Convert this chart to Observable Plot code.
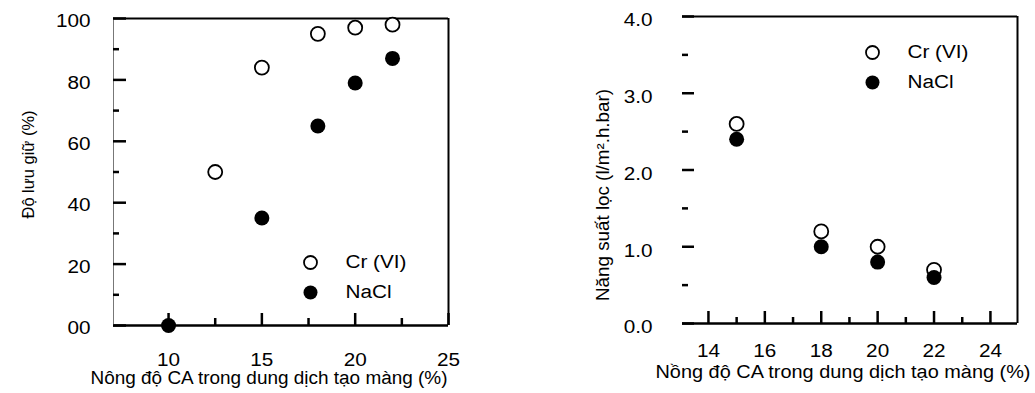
<!DOCTYPE html>
<html><head><meta charset="utf-8">
<script src="https://cdn.jsdelivr.net/npm/d3@7"></script>
<script src="https://cdn.jsdelivr.net/npm/@observablehq/plot@0.6"></script>
<style>
html,body{margin:0;padding:0;background:#fff;}
#wrap{display:flex;width:1035px;height:393px;overflow:hidden;}
#wrap svg{flex:none;}
</style></head><body><div id="wrap"></div>
<script>
// ---------- data ----------
const seriesNames = ["Cr (VI)", "NaCl"];

// Left chart: retention (%) vs CA concentration
const leftCrX = [12.5, 15, 18, 20, 22];
const leftCrY = [50, 84, 95, 97, 98];
const leftNaClX = [10, 15, 18, 20, 22];
const leftNaClY = [0, 35, 65, 79, 87];
const leftXDomain = [7.05, 25];
const leftYDomain = [0, 100];
const leftXMajor = [10, 15, 20, 25];
const leftXMinor = [12.5, 17.5, 22.5];
const leftYMajor = [0, 20, 40, 60, 80, 100];
const leftYMinor = [10, 30, 50, 70, 90];
const leftXTickLabels = ["10", "15", "20", "25"];
const leftYTickLabels = ["00", "20", "40", "60", "80", "100"];
const leftXTitle = "Nông độ CA trong dung dịch tạo màng (%)";
const leftYTitle = "Độ lưu giữ (%)";

// Right chart: flux vs CA concentration
const rightCrX = [15, 18, 20, 22];
const rightCrY = [2.6, 1.2, 1.0, 0.7];
const rightNaClX = [15, 18, 20, 22];
const rightNaClY = [2.4, 1.0, 0.8, 0.6];
const rightXDomain = [13.08, 24.96];
const rightYDomain = [0, 4];
const rightXMajor = [14, 16, 18, 20, 22, 24];
const rightXMinor = [15, 17, 19, 21, 23];
const rightYMajor = [0, 1, 2, 3, 4];
const rightYMinor = [0.5, 1.5, 2.5, 3.5];
const rightXTickLabels = ["14", "16", "18", "20", "22", "24"];
const rightYTickLabels = ["0.0", "1.0", "2.0", "3.0", "4.0"];
const rightXTitle = "Nồng độ CA trong dung dịch tạo màng (%)";
const rightYTitle = "Năng suất lọc (l/m².h.bar)";

const FONT = "Liberation Sans, Arial, Helvetica, sans-serif";

function makeChart(c) {
  const innerW = c.width - c.mL - c.mR;
  const innerH = c.height - c.mT - c.mB;
  const cr = c.crX.map((x, i) => ({x, y: c.crY[i]}));
  const na = c.naX.map((x, i) => ({x, y: c.naY[i]}));
  const marks = [
    Plot.ruleY([c.yDomain[1]], {stroke: "black", strokeWidth: 2}),
    Plot.ruleY([c.yDomain[0]], {stroke: "black", strokeWidth: 2.5}),
    Plot.ruleX([c.xDomain[1]], {stroke: "black", strokeWidth: 2})
  ];
  if (c.leftLine) marks.push(Plot.ruleX([c.xDomain[0]], {stroke: "#777", strokeWidth: 1}));
  marks.push(
    Plot.tickY(c.yMajor, {y: d => d, insetRight: innerW - c.yMajorLen, stroke: "black", strokeWidth: 2.5}),
    Plot.tickY(c.yMinor, {y: d => d, insetRight: innerW - c.yMinorLen, stroke: "black", strokeWidth: 2.5}),
    Plot.tickX(c.xMajor, {x: d => d, insetTop: innerH - c.xMajorLen, stroke: "black", strokeWidth: 2.5}),
    Plot.tickX(c.xMinor, {x: d => d, insetTop: innerH - c.xMinorLen, stroke: "black", strokeWidth: 2.5}),
    Plot.text(c.xMajor, {x: d => d, frameAnchor: "bottom", dy: c.xLabelDy, lineAnchor: "middle", textAnchor: "middle", text: (d, i) => c.xTickLabels[i], fontSize: c.tickFont, fill: "black"}),
    Plot.text(c.yMajor, {y: d => d, frameAnchor: "left", dx: c.yLabelDx, dy: c.yLabelDy, lineAnchor: "middle", textAnchor: "end", text: (d, i) => c.yTickLabels[i], fontSize: c.tickFont, fill: "black"}),
    Plot.text([c.xTitle], {frameAnchor: "bottom", dx: c.xTitleDx, dy: c.xTitleDy, lineAnchor: "middle", textAnchor: "middle", text: d => d, fontSize: c.xTitleFont, fill: "black"}),
    Plot.text([c.yTitle], {frameAnchor: "left", dx: c.yTitleDx, dy: c.yTitleDy, rotate: -90, lineAnchor: "middle", textAnchor: "middle", text: d => d, fontSize: c.yTitleFont, fill: "black"}),
    Plot.dot(cr, {x: "x", y: "y", r: 7, fill: "white", stroke: "black", strokeWidth: 1.8}),
    Plot.dot(na, {x: "x", y: "y", r: 7.5, fill: "black", stroke: "none"}),
    // legend
    Plot.dot([seriesNames[0]], {frameAnchor: c.legAnchor, dx: c.legDx, dy: c.legDy, r: 6.5, fill: "white", stroke: "black", strokeWidth: 1.8}),
    Plot.dot([seriesNames[1]], {frameAnchor: c.legAnchor, dx: c.legDx, dy: c.legDy + 30, r: 7, fill: "black", stroke: "none"}),
    Plot.text([seriesNames[0]], {frameAnchor: c.legAnchor, dx: c.legDx + 35, dy: c.legDy, lineAnchor: "middle", textAnchor: "start", text: d => d, fontSize: c.legFont, fill: "black"}),
    Plot.text([seriesNames[1]], {frameAnchor: c.legAnchor, dx: c.legDx + 35, dy: c.legDy + 30, lineAnchor: "middle", textAnchor: "start", text: d => d, fontSize: c.legFont, fill: "black"})
  );
  return Plot.plot({
    width: c.width, height: c.height,
    marginLeft: c.mL, marginRight: c.mR, marginTop: c.mT, marginBottom: c.mB,
    style: {fontFamily: FONT, background: "white", overflow: "visible"},
    x: {domain: c.xDomain, axis: null},
    y: {domain: c.yDomain, axis: null},
    marks
  });
}

// the source figure's lettering is slightly wide; reproduce with textLength
function widen(svg, k, exact) {
  d3.select(svg).selectAll("text").each(function() {
    const t = this.textContent;
    let L;
    if (exact[t] != null) L = exact[t];
    else L = this.getComputedTextLength() * k;
    this.setAttribute("textLength", L);
    this.setAttribute("lengthAdjust", "spacingAndGlyphs");
  });
}

const left = makeChart({
  width: 517, height: 393, mL: 113, mR: 69, mT: 18, mB: 68,
  crX: leftCrX, crY: leftCrY, naX: leftNaClX, naY: leftNaClY,
  xDomain: leftXDomain, yDomain: leftYDomain,
  xMajor: leftXMajor, xMinor: leftXMinor, yMajor: leftYMajor, yMinor: leftYMinor,
  xTickLabels: leftXTickLabels, yTickLabels: leftYTickLabels,
  xTitle: leftXTitle, yTitle: leftYTitle, leftLine: true,
  yMajorLen: 13, yMinorLen: 6, xMajorLen: 12, xMinorLen: 7,
  xLabelDy: 35, yLabelDx: -23, yLabelDy: 3, tickFont: 18,
  xTitleDx: -12, xTitleDy: 53, xTitleFont: 18,
  yTitleDx: -85, yTitleDy: -7.5, yTitleFont: 16,
  legAnchor: "bottom-right", legDx: -138, legDy: -63, legFont: 18
});
const right = makeChart({
  width: 518, height: 393, mL: 165, mR: 18, mT: 16, mB: 70,
  crX: rightCrX, crY: rightCrY, naX: rightNaClX, naY: rightNaClY,
  xDomain: rightXDomain, yDomain: rightYDomain,
  xMajor: rightXMajor, xMinor: rightXMinor, yMajor: rightYMajor, yMinor: rightYMinor,
  xTickLabels: rightXTickLabels, yTickLabels: rightYTickLabels,
  xTitle: rightXTitle, yTitle: rightYTitle, leftLine: false,
  yMajorLen: 12, yMinorLen: 6, xMajorLen: 12, xMinorLen: 6,
  xLabelDy: 28, yLabelDx: -30, yLabelDy: 4, tickFont: 18,
  xTitleDx: -7, xTitleDy: 49, xTitleFont: 18,
  yTitleDx: -79, yTitleDy: 25, yTitleFont: 18,
  legAnchor: "top-left", legDx: 190, legDy: 36, legFont: 18
});
document.getElementById("wrap").append(left, right);
const exactL = {}; exactL[leftXTitle] = 357; exactL[leftYTitle] = 108;
const exactR = {}; exactR[rightXTitle] = 375; exactR[rightYTitle] = 212;
widen(left, 1.15, exactL);
widen(right, 1.15, exactR);
</script></body></html>
